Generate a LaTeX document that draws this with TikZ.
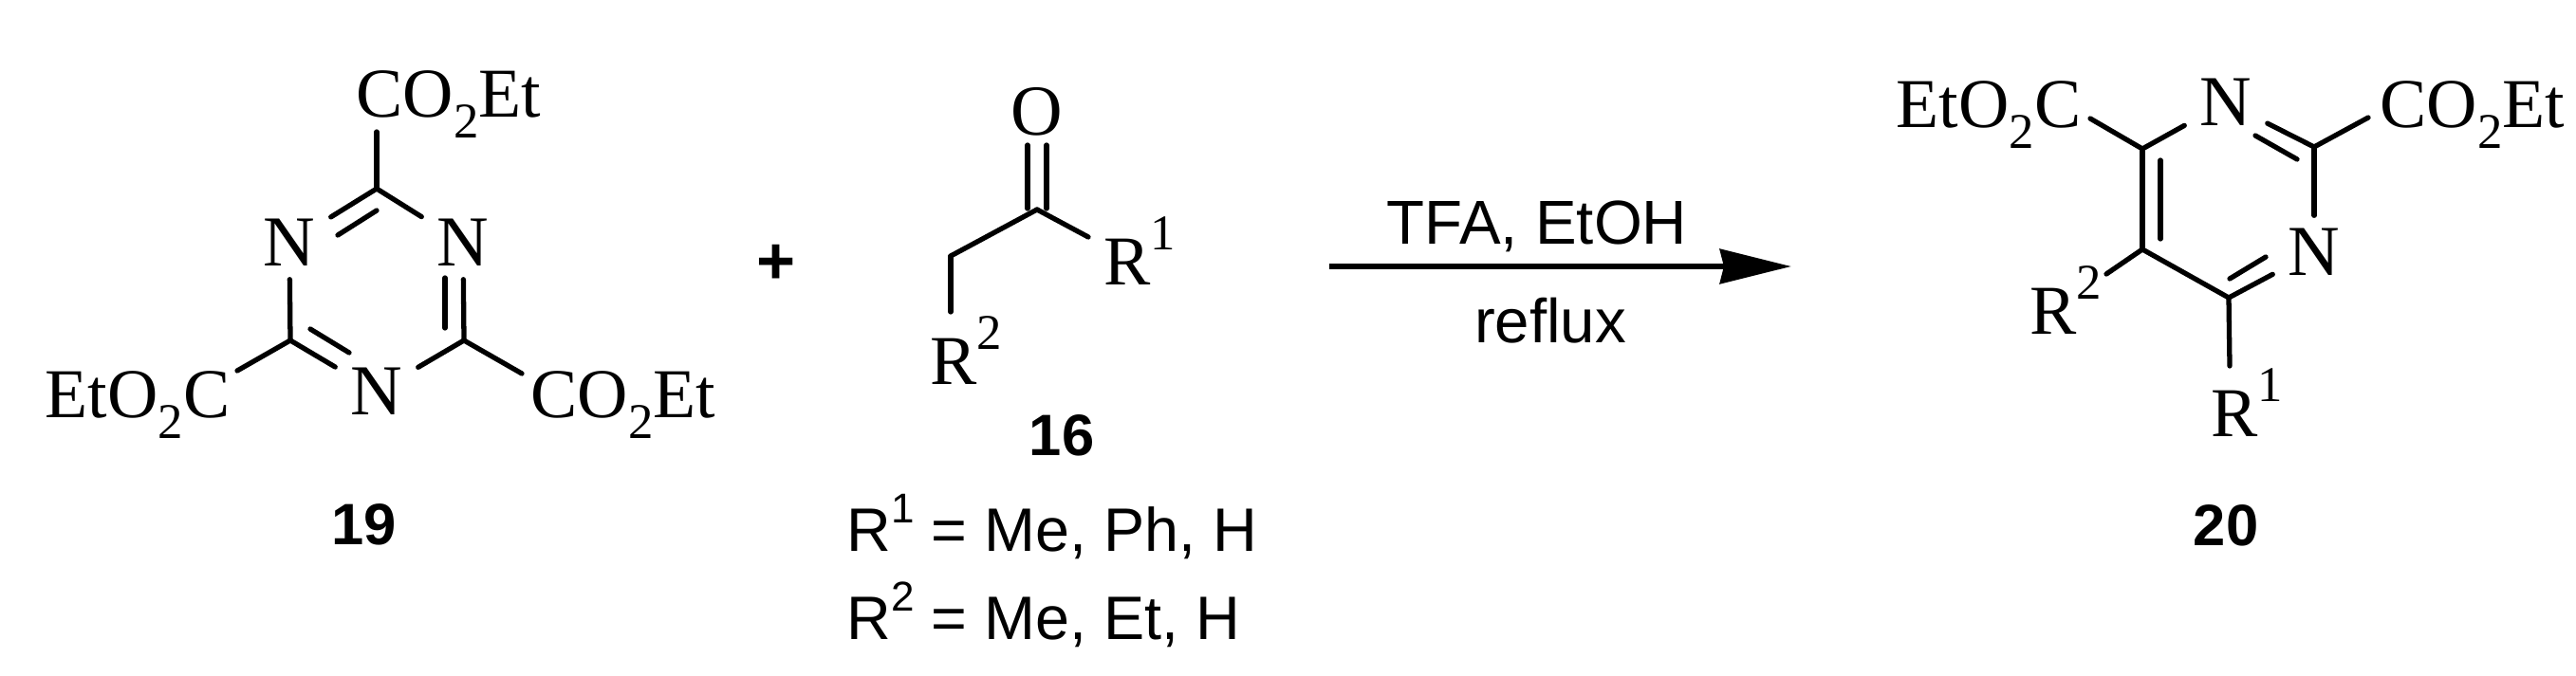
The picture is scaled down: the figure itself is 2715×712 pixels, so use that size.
\documentclass[tikz,border=0pt]{standalone}
\usepackage{fontspec}
\setmainfont{Liberation Serif}
\setsansfont{Liberation Sans}
\usetikzlibrary{arrows.meta}

\newcommand{\lowtwo}{\raisebox{-0.3em}{\fontsize{15}{15}\selectfont 2}}
\newcommand{\highnum}[1]{\raisebox{0.5em}{\fontsize{15}{15}\selectfont #1}}
\newcommand{\sanshigh}[1]{\raisebox{0.46em}{\fontsize{12.5}{12.5}\selectfont #1}}

\tikzset{
	bondline/.style={line width=1.5pt, line cap=round},
	atomN/.style={inner sep=0pt, minimum width=0.86cm, minimum height=0.76cm, font=\fontsize{21.5}{21.5}\selectfont},
	chemtext/.style={inner sep=0pt, anchor=base west, font=\fontsize{21}{21}\selectfont},
	plaintext/.style={inner sep=0pt, anchor=base west, font=\sffamily\fontsize{18.4}{18.4}\selectfont},
	plainmid/.style={inner sep=0pt, anchor=base, font=\sffamily\fontsize{18.6}{18.6}\selectfont},
	numlabel/.style={inner sep=0pt, font=\sffamily\bfseries\fontsize{17.5}{17.5}\selectfont},
}

\begin{document}
\begin{tikzpicture}[x=0.01cm, y=-0.01cm]
	\useasboundingbox (0, 0) rectangle (2715, 712);

	% triazine
	\coordinate (tC1) at (397, 199);
	\coordinate (tC2) at (306, 359);
	\coordinate (tC3) at (489, 359);
	\node[atomN] (tN1) at (305, 256) {N};
	\node[atomN] (tN2) at (488, 256) {N};
	\node[atomN] (tN3) at (397, 413) {N};
	\node[chemtext] (tEs1) at (375, 123) {CO\lowtwo Et};
	\node[chemtext] (tEs2) at (47, 440) {EtO\lowtwo C};
	\node[chemtext] (tEs3) at (559, 440) {CO\lowtwo Et};
	\coordinate (tE1) at (397, 139);
	\coordinate (tE2) at (250, 391);
	\coordinate (tE3) at (550, 394);
	\coordinate (tI1) at (356, 248);
	\coordinate (tI2) at (397, 222);
	\coordinate (tI3) at (469, 293);
	\coordinate (tI4) at (469, 346);
	\coordinate (tI5) at (327, 347);
	\coordinate (tI6) at (368, 372);

	\draw[bondline] (tC1) -- (tN1);
	\draw[bondline] (tC1) -- (tN2);
	\draw[bondline] (tN1) -- (tC2);
	\draw[bondline] (tN2) -- (tC3);
	\draw[bondline] (tC2) -- (tN3);
	\draw[bondline] (tN3) -- (tC3);
	\draw[bondline] (tI1) -- (tI2);
	\draw[bondline] (tI3) -- (tI4);
	\draw[bondline] (tI5) -- (tI6);
	\draw[bondline] (tC1) -- (tE1);
	\draw[bondline] (tC2) -- (tE2);
	\draw[bondline] (tC3) -- (tE3);
	\node[numlabel] (lab19) at (384, 553) {19};

	\node[inner sep=0pt, font=\sffamily\bfseries\fontsize{20}{20}\selectfont] (plus) at (818, 279) {+};

	% ketone
	\coordinate (kC) at (1093, 221);
	\coordinate (kC2) at (1002, 270);
	\coordinate (kE1) at (1147, 250);
	\coordinate (kE2) at (1002, 329);
	\coordinate (kO1) at (1083, 153);
	\coordinate (kO2) at (1103, 153);
	\coordinate (kB1) at (1083, 220);
	\coordinate (kB2) at (1103, 220);
	\node[inner sep=0pt, font=\fontsize{21.5}{21.5}\selectfont] (kO) at (1093, 118) {O};
	\node[chemtext] (kR1) at (1163, 300) {R\highnum{1}};
	\node[chemtext] (kR2) at (980, 405) {R\highnum{2}};

	\draw[bondline] (kB1) -- (kO1);
	\draw[bondline] (kB2) -- (kO2);
	\draw[bondline] (kC) -- (kE1);
	\draw[bondline] (kC) -- (kC2);
	\draw[bondline] (kC2) -- (kE2);
	\node[numlabel] (lab16) at (1119, 459) {16};
	\node[plaintext] (rowA) at (892, 581) {R\sanshigh{1} = Me, Ph, H};
	\node[plaintext] (rowB) at (892, 674) {R\sanshigh{2} = Me, Et, H};

	% arrow
	\coordinate (arS) at (1401, 281);
	\coordinate (arE) at (1888, 281);
	\draw[line width=1.9pt, -{Stealth[length=0.75cm, width=0.36cm, inset=0.04cm]}] (arS) -- (arE);
	\node[plainmid] (aboveAr) at (1620, 257) {TFA, EtOH};
	\node[plainmid] (belowAr) at (1634, 361) {reflux};

	% pyrimidine
	\coordinate (pC4) at (2258, 157);
	\coordinate (pC2) at (2439, 155);
	\coordinate (pC5) at (2258, 263);
	\coordinate (pC6) at (2349, 314);
	\node[atomN] (pN1) at (2346, 108) {N};
	\node[atomN] (pN3) at (2439, 266) {N};
	\node[chemtext] (pEs1) at (1998, 134) {EtO\lowtwo C};
	\node[chemtext] (pEs2) at (2508, 134) {CO\lowtwo Et};
	\node[chemtext] (pR2) at (2139, 352) {R\highnum{2}};
	\node[chemtext] (pR1) at (2330, 460) {R\highnum{1}};
	\coordinate (pE1) at (2203, 125);
	\coordinate (pE2) at (2496, 124);
	\coordinate (pE3) at (2220, 289);
	\coordinate (pE4) at (2350, 386);
	\coordinate (pI1) at (2377, 143);
	\coordinate (pI2) at (2421, 168);
	\coordinate (pI3) at (2277, 169);
	\coordinate (pI4) at (2277, 252);
	\coordinate (pI5) at (2350, 294);
	\coordinate (pI6) at (2388, 271);

	\draw[bondline] (pC4) -- (pN1);
	\draw[bondline] (pN1) -- (pC2);
	\draw[bondline] (pC2) -- (pN3);
	\draw[bondline] (pN3) -- (pC6);
	\draw[bondline] (pC6) -- (pC5);
	\draw[bondline] (pC5) -- (pC4);
	\draw[bondline] (pI1) -- (pI2);
	\draw[bondline] (pI3) -- (pI4);
	\draw[bondline] (pI5) -- (pI6);
	\draw[bondline] (pC4) -- (pE1);
	\draw[bondline] (pC2) -- (pE2);
	\draw[bondline] (pC5) -- (pE3);
	\draw[bondline] (pC6) -- (pE4);
	\node[numlabel] (lab20) at (2346, 554) {20};
\end{tikzpicture}
\end{document}
